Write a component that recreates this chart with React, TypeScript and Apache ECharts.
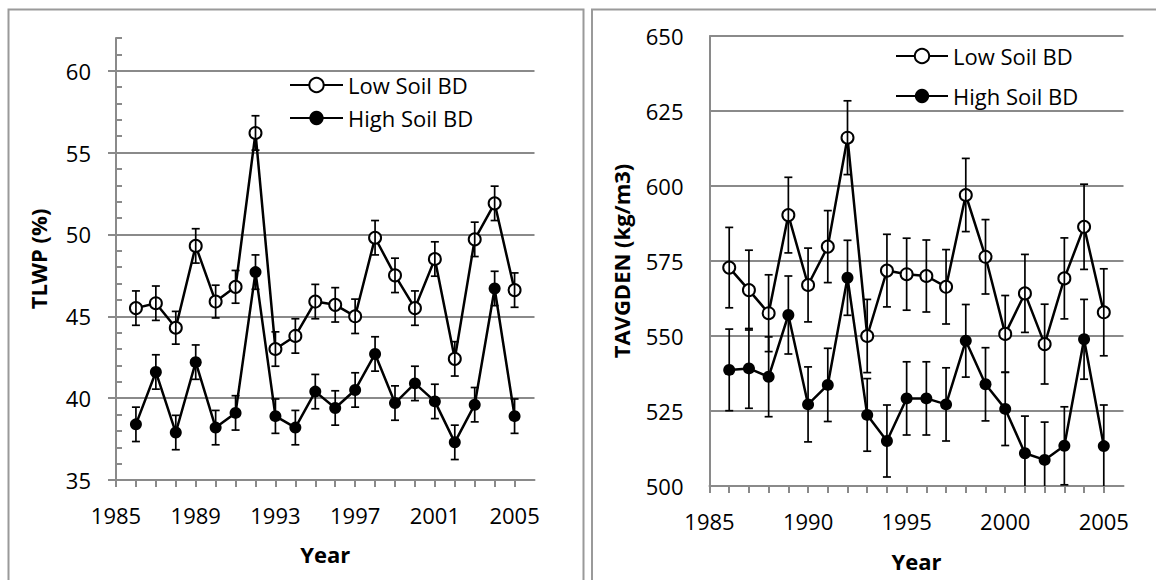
import React, { useEffect, useRef } from "react";
import * as echarts from "echarts";

const years = [1986, 1987, 1988, 1989, 1990, 1991, 1992, 1993, 1994, 1995, 1996, 1997, 1998, 1999, 2000, 2001, 2002, 2003, 2004, 2005];

const tlwpLow = [45.5, 45.8, 44.3, 49.3, 45.9, 46.8, 56.2, 43.0, 43.8, 45.9, 45.7, 45.0, 49.8, 47.5, 45.5, 48.5, 42.4, 49.7, 51.9, 46.6];
const tlwpLowErr = [1.05, 1.05, 1.0, 1.05, 1.0, 1.0, 1.05, 1.05, 1.05, 1.05, 1.05, 1.05, 1.05, 1.05, 1.05, 1.05, 1.05, 1.05, 1.05, 1.05];
const tlwpHigh = [38.4, 41.6, 37.9, 42.2, 38.2, 39.1, 47.7, 38.9, 38.2, 40.4, 39.4, 40.5, 42.7, 39.7, 40.9, 39.8, 37.3, 39.6, 46.7, 38.9];
const tlwpHighErr = [1.05, 1.05, 1.05, 1.05, 1.05, 1.05, 1.05, 1.05, 1.05, 1.05, 1.05, 1.05, 1.05, 1.05, 1.05, 1.05, 1.05, 1.05, 1.05, 1.05];

const tavLow = [572.8, 565.3, 557.6, 590.3, 567.0, 579.8, 616.1, 550.0, 571.8, 570.6, 570.0, 566.4, 597.0, 576.4, 550.7, 564.2, 547.3, 569.2, 586.4, 557.9];
const tavLowErr = [13.4, 13.3, 12.8, 12.6, 12.3, 12.0, 12.3, 12.2, 12.1, 12.0, 12.0, 12.4, 12.2, 12.4, 12.8, 13.0, 13.3, 13.5, 14.2, 14.5];
const tavHigh = [538.7, 539.2, 536.4, 557.0, 527.2, 533.7, 569.4, 523.7, 515.0, 529.2, 529.2, 527.2, 548.4, 533.9, 525.7, 510.9, 508.7, 513.4, 548.9, 513.3];
const tavHighErr = [13.6, 13.3, 13.3, 13.0, 12.5, 12.2, 12.5, 12.1, 12.0, 12.2, 12.2, 12.2, 12.1, 12.2, 12.2, 12.4, 12.6, 13.0, 13.3, 13.7];

const seriesNames = ["Low Soil BD", "High Soil BD"];
const leftTitle = "TLWP (%)";
const rightTitle = "TAVGDEN (kg/m3)";
const xTitle = "Year";

const FONT = "Open Sans";
const GRAY = "#8a8a8a";
const W = 1156;
const H = 580;

const L = { left: 116, right: 534.5, top: 38, bottom: 480 };
const R = { left: 709.5, right: 1123.5, top: 36, bottom: 486 };

function errData(vals: number[], errs: number[]) {
  return years.map((y, i) => [y, vals[i] - errs[i], vals[i] + errs[i]]);
}

function renderErr(params: any, api: any) {
  const cs = params.coordSys;
  const x = api.value(0);
  const p1 = api.coord([x, api.value(1)]);
  const p2 = api.coord([x, api.value(2)]);
  const top = cs.y;
  const bot = cs.y + cs.height;
  const cx = p1[0];
  const yLo = Math.min(p1[1], bot);
  const yHi = Math.max(p2[1], top);
  const half = 4;
  const style = { stroke: "#000", lineWidth: 1.7 };
  const children: any[] = [
    { type: "line", shape: { x1: cx, y1: yLo, x2: cx, y2: yHi }, style },
  ];
  if (p1[1] <= bot) children.push({ type: "line", shape: { x1: cx - half, y1: yLo, x2: cx + half, y2: yLo }, style });
  if (p2[1] >= top) children.push({ type: "line", shape: { x1: cx - half, y1: yHi, x2: cx + half, y2: yHi }, style });
  return { type: "group", children };
}

function lineSeries(name: string, vals: number[], xi: number, yi: number, filled: boolean) {
  return {
    type: "line",
    name,
    xAxisIndex: xi,
    yAxisIndex: yi,
    data: years.map((y, i) => [y, vals[i]]),
    symbol: filled ? "circle" : "emptyCircle",
    symbolSize: 12,
    lineStyle: { color: "#000", width: 2.5 },
    itemStyle: { color: "#000", borderColor: "#000", borderWidth: filled ? 0 : 2 },
    z: 2,
  };
}

function errSeries(vals: number[], errs: number[], xi: number, yi: number) {
  return {
    type: "custom",
    xAxisIndex: xi,
    yAxisIndex: yi,
    data: errData(vals, errs),
    renderItem: renderErr,
    encode: { x: 0, y: [1, 2] },
    z: 3,
    silent: true,
  };
}

export default function App() {
  const ref = useRef<HTMLDivElement>(null);
  useEffect(() => {
    if (!ref.current) return;
    const chart = echarts.init(ref.current, null, { renderer: "svg" });
    const labelGridTop = L.bottom - ((L.bottom - L.top) * 25) / 27;
    const axisLineStyle = { color: GRAY, width: 2 };
    const labelStyle = { fontFamily: FONT, fontSize: 22, color: "#000" };
    const titleStyle = { fontFamily: FONT, fontSize: 22, fontWeight: "bold" as const, color: "#000" };

    const option: any = {
      animation: false,
      backgroundColor: "#fff",
      textStyle: { fontFamily: FONT },
      graphic: [
        { type: "rect", shape: { x: 8.5, y: 9.5, width: 575, height: 640 }, style: { fill: "none", stroke: "#9a9a9a", lineWidth: 2 }, silent: true },
        { type: "rect", shape: { x: 592, y: 9.5, width: 640, height: 640 }, style: { fill: "none", stroke: "#9a9a9a", lineWidth: 2 }, silent: true },
      ],
      grid: [
        { left: L.left, top: L.top, width: L.right - L.left, height: L.bottom - L.top },
        { left: L.left, top: labelGridTop, width: L.right - L.left, height: L.bottom - labelGridTop },
        { left: R.left, top: R.top, width: R.right - R.left, height: R.bottom - R.top },
      ],
      legend: [
        {
          data: seriesNames,
          orient: "vertical",
          left: 289,
          top: 74,
          padding: 0,
          itemWidth: 53,
          itemHeight: 18,
          itemGap: 11,
          textStyle: { ...labelStyle, lineHeight: 22 },
          selectedMode: false,
        },
        {
          data: seriesNames,
          orient: "vertical",
          left: 895,
          top: 45,
          padding: 0,
          itemWidth: 52,
          itemHeight: 18,
          itemGap: 18,
          textStyle: { ...labelStyle, lineHeight: 22 },
          selectedMode: false,
        },
      ],
      xAxis: [
        {
          gridIndex: 0,
          type: "value",
          min: 1985,
          max: 2006,
          interval: 1,
          axisLine: { show: true, lineStyle: axisLineStyle },
          axisTick: { show: true, length: 7, lineStyle: axisLineStyle },
          axisLabel: {
            ...labelStyle,
            margin: 24,
            showMaxLabel: false,
            formatter: (v: number) => ((v - 1985) % 4 === 0 && v <= 2005 ? String(v) : ""),
          },
          splitLine: { show: false },
          name: xTitle,
          nameLocation: "middle",
          nameGap: 63,
          nameTextStyle: titleStyle,
        },
        { gridIndex: 1, type: "value", min: 1985, max: 2006, show: false },
        {
          gridIndex: 2,
          type: "value",
          min: 1985,
          max: 2006,
          interval: 1,
          axisLine: { show: true, lineStyle: axisLineStyle },
          axisTick: { show: true, length: 7, lineStyle: axisLineStyle },
          axisLabel: {
            ...labelStyle,
            margin: 24,
            showMaxLabel: false,
            formatter: (v: number) => ((v - 1985) % 5 === 0 && v <= 2005 ? String(v) : ""),
          },
          splitLine: { show: false },
          name: xTitle,
          nameLocation: "middle",
          nameGap: 64,
          nameTextStyle: titleStyle,
        },
      ],
      yAxis: [
        {
          gridIndex: 0,
          type: "value",
          min: 35,
          max: 62,
          interval: 1,
          axisLine: { show: true, lineStyle: axisLineStyle },
          axisTick: { show: true, inside: true, length: 6, lineStyle: axisLineStyle },
          axisLabel: { show: false },
          splitLine: { show: false },
          name: leftTitle,
          nameLocation: "middle",
          nameGap: 67,
          nameTextStyle: titleStyle,
        },
        {
          gridIndex: 1,
          type: "value",
          min: 35,
          max: 60,
          interval: 5,
          axisLine: { show: false },
          axisTick: { show: true, length: 8, lineStyle: axisLineStyle },
          axisLabel: { ...labelStyle, margin: 25 },
          splitLine: { show: true, lineStyle: axisLineStyle },
        },
        {
          gridIndex: 2,
          type: "value",
          min: 500,
          max: 650,
          interval: 25,
          axisLine: { show: true, lineStyle: axisLineStyle },
          axisTick: { show: false },
          axisLabel: { ...labelStyle, margin: 26 },
          splitLine: { show: true, lineStyle: axisLineStyle },
          name: rightTitle,
          nameLocation: "middle",
          nameGap: 78,
          nameTextStyle: titleStyle,
        },
      ],
      series: [
        lineSeries(seriesNames[0], tlwpLow, 0, 0, false),
        lineSeries(seriesNames[1], tlwpHigh, 0, 0, true),
        errSeries(tlwpLow, tlwpLowErr, 0, 0),
        errSeries(tlwpHigh, tlwpHighErr, 0, 0),
        lineSeries(seriesNames[0], tavLow, 2, 2, false),
        lineSeries(seriesNames[1], tavHigh, 2, 2, true),
        errSeries(tavLow, tavLowErr, 2, 2),
        errSeries(tavHigh, tavHighErr, 2, 2),
      ],
    };
    chart.setOption(option);
    return () => chart.dispose();
  }, []);
  return <div ref={ref} style={{ position: "absolute", left: 0, top: 0, width: W, height: H }} />;
}
